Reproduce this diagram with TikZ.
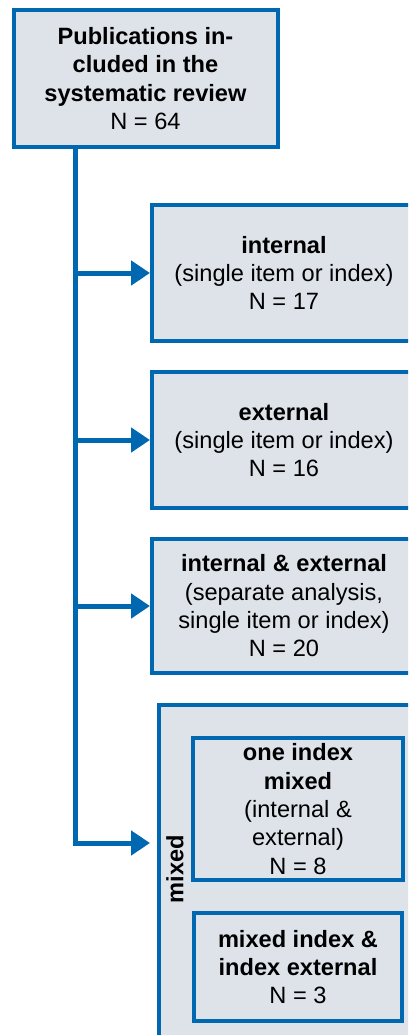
\documentclass[tikz,border=0pt]{standalone}
\usepackage{fontspec}
\setmainfont{Liberation Sans}
\usetikzlibrary{arrows.meta}
\definecolor{boxblue}{RGB}{0,103,177}
\definecolor{boxfill}{RGB}{221,227,233}

\begin{document}
\begin{tikzpicture}[x=1pt,y=-1pt,
  box/.style={draw=boxblue,fill=boxfill,line width=4pt,align=center,inner sep=0pt,
    font=\fontsize{23.6}{28.3}\selectfont},
  wire/.style={draw=boxblue,line width=5pt},
  arr/.style={wire,-{Triangle[length=19pt,width=24pt]}}]
\clip (0,0) rectangle (408,1035);

\node[box,minimum width=264pt,minimum height=137pt] at (145.5,78.5) (main)
  {\textbf{Publications in-}\\\textbf{cluded in the}\\\textbf{systematic review}\\N = 64};
\node[box,minimum width=264pt,minimum height=136pt] at (284,273) (internal)
  {\textbf{internal}\\(single item or index)\\N = 17};
\node[box,minimum width=264pt,minimum height=136pt] at (284,440) (external)
  {\textbf{external}\\(single item or index)\\N = 16};
\node[box,minimum width=264pt,minimum height=134pt] at (284,606) (both)
  {\textbf{internal \& external}\\(separate analysis,\\single item or index)\\N = 20};

% mixed group
\node[box,minimum width=286pt,minimum height=396pt] at (302,903) (mixed) {};
\node[rotate=90,font=\fontsize{23.6}{28}\selectfont\bfseries] at (175,869) (mixedlabel) {mixed};
\node[box,minimum width=210pt,minimum height=142pt] at (298,809) (onemixed)
  {\textbf{one index}\\\textbf{mixed}\\(internal \&\\external)\\N = 8};
\node[box,minimum width=208pt,minimum height=108pt] at (298,967) (mixedext)
  {\textbf{mixed index \&}\\\textbf{index external}\\N = 3};

\coordinate (trunk) at ([xshift=64pt]main.south west);
\coordinate (mixin) at (150,843);

\draw[arr] (trunk) |- (mixin);
\foreach \n in {internal,external,both}
  \draw[arr] (trunk |- \n.west) -- (\n.west);
\end{tikzpicture}
\end{document}
